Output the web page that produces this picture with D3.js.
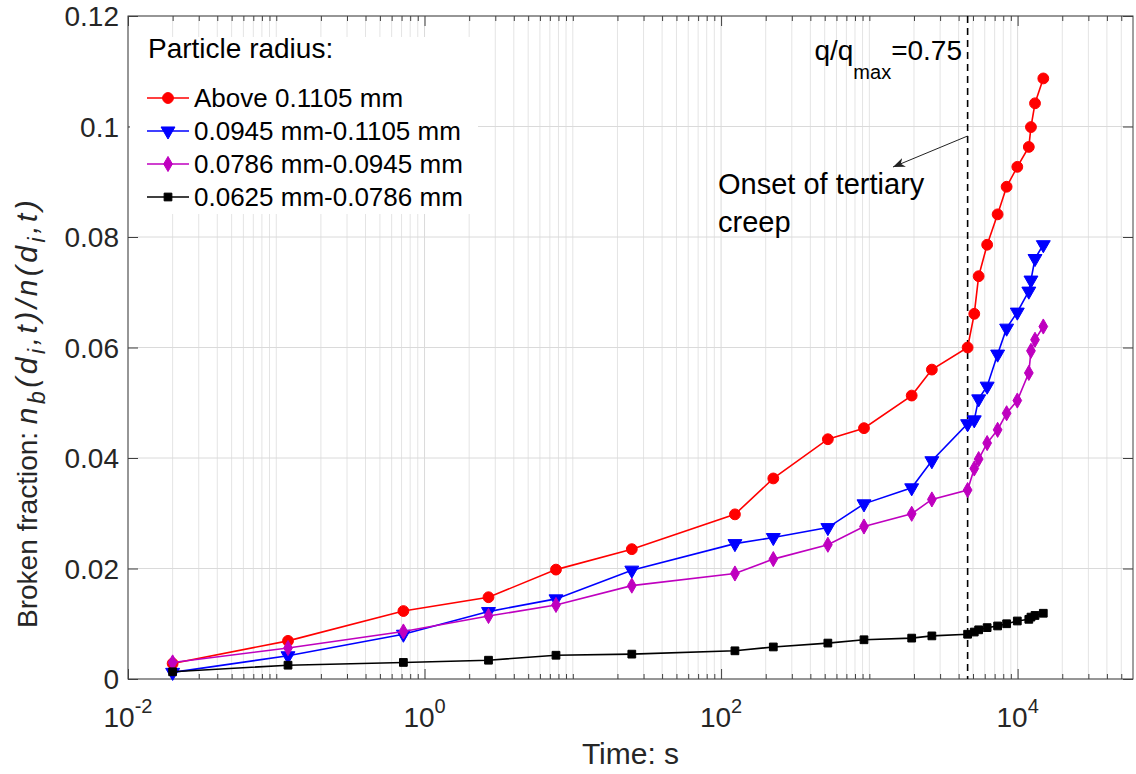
<!DOCTYPE html>
<html>
<head>
<meta charset="utf-8">
<script src="https://cdn.jsdelivr.net/npm/d3@7"></script>
<style>
  body { margin: 0; background: #fff; }
  svg { font-family: "Liberation Sans", Arial, Helvetica, sans-serif; }
</style>
</head>
<body>
<svg id="canvas"></svg>
<script>
// time (s) shared by all four particle-size classes
const timeS = [0.02, 0.12, 0.72, 2.7, 7.7, 25, 124, 225, 525, 920, 1930, 2640, 4600,
  5100, 5460, 6230, 7330, 8430, 9950, 11900, 12300, 13100, 14900];

const above1105 = [0.0028, 0.0069, 0.0123, 0.0148, 0.0198, 0.0235, 0.0298, 0.0363, 0.0434,
  0.0454, 0.0513, 0.0560, 0.0600, 0.0661, 0.0729, 0.0786, 0.0841, 0.0891, 0.0927, 0.0963,
  0.0999, 0.1042, 0.1087];
const r0945to1105 = [0.0012, 0.0042, 0.0081, 0.0122, 0.0145, 0.0197, 0.0245, 0.0256, 0.0274,
  0.0317, 0.0346, 0.0395, 0.0462, 0.0469, 0.0507, 0.0530, 0.0588, 0.0635, 0.0664, 0.0702,
  0.0722, 0.0761, 0.0786];
const r0786to0945 = [0.0030, 0.0056, 0.0086, 0.0114, 0.0134, 0.0169, 0.0191, 0.0217, 0.0243,
  0.0276, 0.0299, 0.0325, 0.0342, 0.0381, 0.0398, 0.0427, 0.0451, 0.0481, 0.0504, 0.0554,
  0.0594, 0.0614, 0.0638];
const r0625to0786 = [0.0013, 0.0025, 0.0030, 0.0034, 0.0043, 0.0045, 0.0051, 0.0058, 0.0065,
  0.0071, 0.0074, 0.0078, 0.0081, 0.0085, 0.0089, 0.0093, 0.0096, 0.0100, 0.0105, 0.0108,
  0.0112, 0.0115, 0.0119];

const seriesNames = ['Above 0.1105 mm', '0.0945 mm-0.1105 mm', '0.0786 mm-0.0945 mm', '0.0625 mm-0.0786 mm'];
const seriesValues = [above1105, r0945to1105, r0786to0945, r0625to0786];

const xMajorTicks = [1e-2, 1e0, 1e2, 1e4];
const xMajorExponents = ['-2', '0', '2', '4'];
const yTicks = [0, 0.02, 0.04, 0.06, 0.08, 0.1, 0.12];
const yTickLabels = ['0', '0.02', '0.04', '0.06', '0.08', '0.1', '0.12'];
const onsetTime = 4600;

const width = 1136;
const height = 774;
const margin = { top: 16, right: 3, bottom: 95, left: 128 };
const plotW = width - margin.left - margin.right;
const plotH = height - margin.top - margin.bottom;

const colors = ['#ff0000', '#0000ff', '#bf00bf', '#000000'];
const symbols = [
  { type: d3.symbolCircle, size: 92, rot: 0 },
  { type: d3.symbolTriangle, size: 84, rot: 180 },
  { type: d3.symbolDiamond, size: 66, rot: 0 },
  { type: d3.symbolSquare, size: 60, rot: 0 }
];

const svg = d3.select('#canvas').attr('width', width).attr('height', height);
const g = svg.append('g').attr('transform', `translate(${margin.left},${margin.top})`);

const x = d3.scaleLog().domain([1e-2, 6e4]).range([0, plotW]);
const y = d3.scaleLinear().domain([0, 0.12]).range([plotH, 0]);

// minor tick positions on the log axis
let xMinorTicks = [];
for (let k = -2; k <= 4; k++) {
  for (let m = 1; m <= 9; m++) {
    const v = m * Math.pow(10, k);
    if (v <= 5e4 && !xMajorTicks.includes(v)) xMinorTicks.push(v);
  }
}

// grid
g.append('g').selectAll('line').data(xMinorTicks).enter().append('line')
  .attr('x1', (d) => x(d)).attr('x2', (d) => x(d))
  .attr('y1', 0).attr('y2', plotH)
  .attr('stroke', '#e4e4e4').attr('stroke-width', 1);
g.append('g').selectAll('line').data(xMajorTicks).enter().append('line')
  .attr('x1', (d) => x(d)).attr('x2', (d) => x(d))
  .attr('y1', 0).attr('y2', plotH)
  .attr('stroke', '#dadada').attr('stroke-width', 1);
g.append('g').selectAll('line').data(yTicks).enter().append('line')
  .attr('x1', 0).attr('x2', plotW)
  .attr('y1', (d) => y(d)).attr('y2', (d) => y(d))
  .attr('stroke', '#dadada').attr('stroke-width', 1);

// axes with inward ticks
const axisColor = '#404040';
const styleAxis = (sel) => {
  sel.select('.domain').remove();
  sel.selectAll('line').attr('stroke', axisColor);
  sel.selectAll('text').remove();
};
g.append('g').attr('transform', `translate(0,${plotH})`)
  .call(d3.axisBottom(x).tickValues(xMajorTicks).tickSize(-10)).call(styleAxis);
g.append('g').attr('transform', `translate(0,${plotH})`)
  .call(d3.axisBottom(x).tickValues(xMinorTicks).tickSize(-5)).call(styleAxis);
g.append('g').call(d3.axisTop(x).tickValues(xMajorTicks).tickSize(-10)).call(styleAxis);
g.append('g').call(d3.axisTop(x).tickValues(xMinorTicks).tickSize(-5)).call(styleAxis);
g.append('g').call(d3.axisLeft(y).tickValues(yTicks).tickSize(-10)).call(styleAxis);
g.append('g').attr('transform', `translate(${plotW},0)`)
  .call(d3.axisRight(y).tickValues(yTicks).tickSize(-10)).call(styleAxis);

g.append('rect').attr('width', plotW).attr('height', plotH)
  .attr('fill', 'none').attr('stroke', axisColor).attr('stroke-width', 1);

// tick labels
g.append('g').selectAll('text').data(yTicks).enter().append('text')
  .attr('x', -9).attr('y', (d) => y(d)).attr('dy', '0.36em')
  .attr('text-anchor', 'end').attr('font-size', 28).attr('fill', '#262626')
  .text((d, i) => yTickLabels[i]);

const xl = g.append('g').selectAll('text').data(xMajorTicks).enter().append('text')
  .attr('x', (d) => x(d)).attr('y', plotH + 48)
  .attr('text-anchor', 'middle').attr('font-size', 28).attr('fill', '#262626');
xl.append('tspan').text('10');
xl.append('tspan').attr('dy', -14).attr('font-size', 20).text((d, i) => xMajorExponents[i]);

// axis labels
svg.append('text').attr('x', margin.left + plotW / 2).attr('y', 764)
  .attr('text-anchor', 'middle').attr('font-size', 30).attr('fill', '#262626')
  .text('Time: s');

const yl = svg.append('text').attr('transform', 'translate(37,628) rotate(-90)')
  .attr('font-size', 28).attr('fill', '#262626');
yl.append('tspan').text('Broken fraction: ');
const mathParts = [['n', false], ['b', true], ['(d', false], ['i', true], [',t)/n(d', false], ['i', true], [',t)', false]];
let sub = false;
mathParts.forEach(([t, s]) => {
  const ts = yl.append('tspan').attr('font-style', 'italic')
    .attr('letter-spacing', 3.5).attr('font-size', s ? 23 : 30).text(t);
  if (s && !sub) ts.attr('dy', 8);
  if (!s && sub) ts.attr('dy', -8);
  sub = s;
});

// onset line
g.append('line').attr('x1', x(onsetTime)).attr('x2', x(onsetTime))
  .attr('y1', 0).attr('y2', plotH)
  .attr('stroke', '#000').attr('stroke-width', 1.6).attr('stroke-dasharray', '7,5');

// series
const line = d3.line().x((d) => x(d[0])).y((d) => y(d[1]));
seriesValues.forEach((vals, i) => {
  const pts = timeS.map((t, j) => [t, vals[j]]);
  g.append('path').datum(pts).attr('d', line)
    .attr('fill', 'none').attr('stroke', colors[i]).attr('stroke-width', 1.6);
  g.append('g').selectAll('path').data(pts).enter().append('path')
    .attr('d', d3.symbol().type(symbols[i].type).size(symbols[i].size))
    .attr('transform', (d) => `translate(${x(d[0])},${y(d[1])}) rotate(${symbols[i].rot})`)
    .attr('fill', colors[i]).attr('stroke', colors[i]).attr('stroke-width', 1);
});

// legend
const lg = svg.append('g');
lg.append('rect').attr('x', 130).attr('y', 37).attr('width', 348).attr('height', 177).attr('fill', '#fff');
lg.append('text').attr('x', 148).attr('y', 58).attr('font-size', 28).attr('fill', '#000')
  .text('Particle radius:');
seriesNames.forEach((name, i) => {
  const cy = 98 + i * 33;
  lg.append('line').attr('x1', 147).attr('x2', 189).attr('y1', cy).attr('y2', cy)
    .attr('stroke', colors[i]).attr('stroke-width', 1.6);
  lg.append('path').attr('d', d3.symbol().type(symbols[i].type).size(symbols[i].size))
    .attr('transform', `translate(168,${cy}) rotate(${symbols[i].rot})`)
    .attr('fill', colors[i]).attr('stroke', colors[i]);
  lg.append('text').attr('x', 194).attr('y', cy).attr('dy', '0.35em')
    .attr('font-size', 26).attr('fill', '#000').text(name);
});

// annotations
const qt = svg.append('text').attr('x', 962).attr('y', 60).attr('text-anchor', 'end')
  .attr('font-size', 28).attr('fill', '#000');
qt.append('tspan').text('q/q');
qt.append('tspan').attr('dy', 19).attr('font-size', 20).text('max');
qt.append('tspan').attr('dy', -19).text('=0.75');

svg.append('defs').append('marker').attr('id', 'arrow')
  .attr('viewBox', '0 0 10 10').attr('refX', 10).attr('refY', 5)
  .attr('markerWidth', 12).attr('markerHeight', 12).attr('markerUnits', 'userSpaceOnUse')
  .attr('orient', 'auto')
  .append('path').attr('d', 'M0,1 L10,5 L0,9 L3,5 Z').attr('fill', '#222');
svg.append('line').attr('x1', margin.left + x(onsetTime)).attr('y1', 136)
  .attr('x2', 893).attr('y2', 167)
  .attr('stroke', '#222').attr('stroke-width', 1).attr('marker-end', 'url(#arrow)');

const on = svg.append('text').attr('x', 718).attr('y', 194).attr('font-size', 29).attr('fill', '#000');
on.append('tspan').attr('x', 718).text('Onset of tertiary');
on.append('tspan').attr('x', 718).attr('dy', 38).text('creep');
</script>
</body>
</html>
